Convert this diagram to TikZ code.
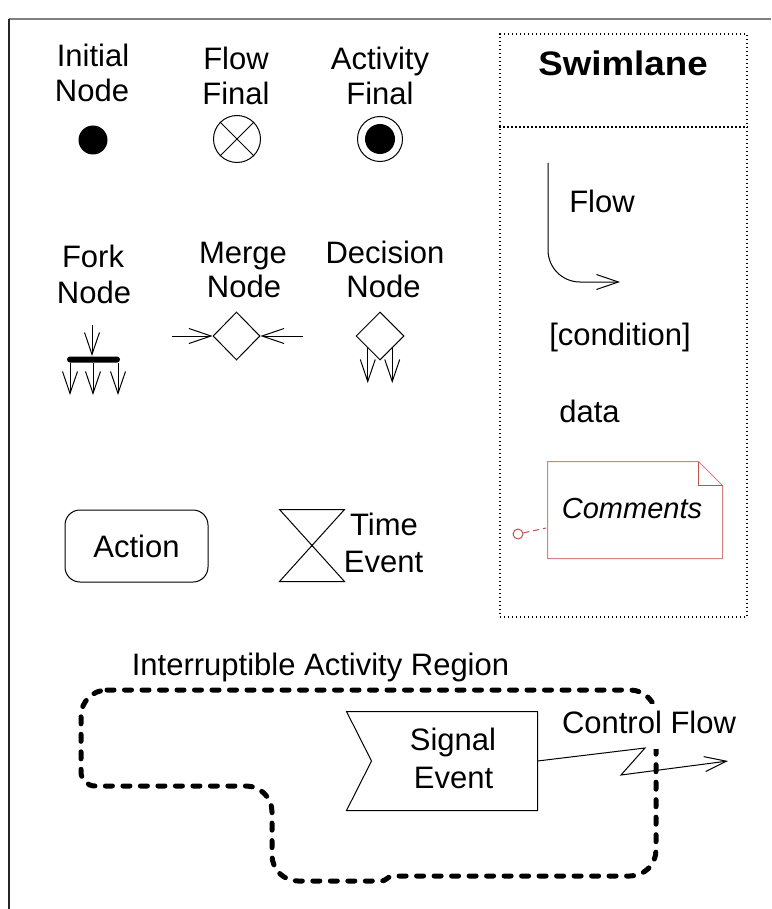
\documentclass[tikz,border=0pt]{standalone}
\usepackage{fontspec}
\setmainfont{Liberation Sans}
\usetikzlibrary{arrows.meta,shapes.geometric,calc}
\definecolor{framegray}{RGB}{128,128,128}
\definecolor{notered}{RGB}{215,130,130}
\definecolor{folded}{RGB}{192,80,77}
\begin{document}
\begin{tikzpicture}[x=1pt,y=-1pt, line width=1pt,
  lbl/.style={font=\fontsize{31}{35}\selectfont, inner sep=0pt, anchor=base},
  arr/.style={-{Straight Barb[length=22pt,width=15pt]}},
  lanedots/.style={dash pattern=on 1.2pt off 2.8pt, line width=1.2pt},
  region/.style={line width=5pt, line cap=round, dash pattern=on 7pt off 10.5pt}]
\useasboundingbox (0,0) rectangle (771,909);
\fill[white] (0,0) rectangle (771,909);
% frame
\coordinate (fTL) at (9,19); \coordinate (fTR) at (771,19); \coordinate (fBL) at (9,909);
\draw[framegray, line width=1.5pt] (fTL) -- (fTR);
\draw[black!85, line width=1.5pt] (fTL) -- (fBL);
% initial node
\node[lbl] (tInit1) at (93,67) {Initial};
\node[lbl] (tInit2) at (92,102) {Node};
\node[circle, fill=black, minimum size=29pt, inner sep=0pt] (init) at (93,140) {};
% flow final
\node[lbl] (tFF1) at (236,70) {Flow};
\node[lbl] (tFF2) at (236,105) {Final};
\node[circle, draw, minimum size=47pt, inner sep=0pt] (ff) at (237,139) {};
\draw (ff.north west) -- (ff.south east);
\draw (ff.north east) -- (ff.south west);
% activity final
\node[lbl] (tAF1) at (380,70) {Activity};
\node[lbl] (tAF2) at (380,105) {Final};
\node[circle, draw, minimum size=45pt, inner sep=0pt] (af) at (380,139) {};
\node[circle, fill=black, minimum size=30pt, inner sep=0pt] (afIn) at (af.center) {};
% fork
\node[lbl] (tFork1) at (93,267) {Fork};
\node[lbl] (tFork2) at (94,303) {Node};
\node[fill=black, rounded corners=3pt, minimum width=53pt, minimum height=6pt, inner sep=0pt] (fork) at (93.5,359.5) {};
\coordinate (forkIn) at (92,325);
\draw[arr] (forkIn) -- (forkIn |- fork.north);
\coordinate (fo1) at (70,395); \coordinate (fo2) at (93,395); \coordinate (fo3) at (118,395);
\draw[arr] (fo1 |- fork.south) -- (fo1);
\draw[arr] (fo2 |- fork.south) -- (fo2);
\draw[arr] (fo3 |- fork.south) -- (fo3);
% merge
\node[lbl] (tMerge1) at (243,263) {Merge};
\node[lbl] (tMerge2) at (244,297) {Node};
\node[diamond, draw, minimum width=47pt, minimum height=48pt, inner sep=0pt] (merge) at (236.5,336) {};
\coordinate (mInL) at (172,336); \coordinate (mInR) at (303,336);
\draw[arr] (mInL) -- (merge.west);
\draw[arr] (mInR) -- (merge.east);
% decision
\node[lbl] (tDec1) at (385,263) {Decision};
\node[lbl] (tDec2) at (383.5,297) {Node};
\node[diamond, draw, minimum width=48pt, minimum height=48pt, inner sep=0pt] (dec) at (380,336) {};
\coordinate (dOut) at (0,383);
\draw[arr] (dec.south west) -- (dec.south west |- dOut);
\draw[arr] (dec.south east) -- (dec.south east |- dOut);
% action
\node[draw, rounded corners=15pt, minimum width=143pt, minimum height=72pt, inner sep=0pt, font=\fontsize{31}{35}\selectfont] (act) at (136.5,546) {Action};
% time event
\node[minimum width=64pt, minimum height=71pt, inner sep=0pt] (te) at (312,545.5) {};
\draw (te.north west) -- (te.north east) -- (te.south west) -- (te.south east) -- cycle;
\node[lbl] (tTime1) at (384,535) {Time};
\node[lbl] (tTime2) at (383.5,572) {Event};
% swimlane
\node[draw, lanedots, minimum width=247pt, minimum height=583pt, inner sep=0pt] (lane) at (623.5,325.5) {};
\coordinate (laneDiv) at (0,127);
\draw[lanedots] (lane.west |- laneDiv) -- (lane.east |- laneDiv);
\node[font=\fontsize{34}{40}\selectfont\bfseries, inner sep=0pt, anchor=base] (tSwim) at (623,76) {\scalebox{1.08}[1]{Swimlane}};
\coordinate (flowA) at (548,163); \coordinate (flowB) at (620,282);
\draw[arr, rounded corners=32pt] (flowA) |- (flowB);
\node[lbl] (tFlow) at (602,213) {Flow};
\node[lbl] (tCond) at (620,345) {[condition]};
\node[lbl] (tData) at (589.5,422) {data};
% comment note
\node[minimum width=174pt, minimum height=96pt, inner sep=0pt] (note) at (635,510) {};
\draw[notered] (note.north west) -- ($(note.north east)+(-24,0)$) -- ($(note.north east)+(0,24)$) -- (note.south east) -- (note.south west) -- cycle;
\draw[folded] ($(note.north east)+(-24,0)$) -- ($(note.north east)+(-24,24)$) -- ($(note.north east)+(0,24)$);
\node[font=\fontsize{29}{35}\selectfont\itshape, inner sep=0pt, anchor=base] (tCom) at (632,518) {Comments};
\node[circle, draw=folded, minimum size=10pt, inner sep=0pt] (cc) at (518,534) {};
\coordinate (ccEnd) at (546,528);
\draw[folded, dash pattern=on 6pt off 4pt] (cc) -- (ccEnd);
% interruptible region
\node[lbl] (tIAR) at (320.5,675) {Interruptible Activity Region};
\draw[region] (107,690) -- (630,690)
  .. controls (644.4,690) and (656,701.6) .. (656,716) -- (656,850)
  .. controls (656,864.4) and (644.4,876) .. (630,876) -- (394,876)
  .. controls (386,876) and (388,881) .. (380,881) -- (298,881)
  .. controls (283.6,881) and (272,869.4) .. (272,855) -- (272,812)
  .. controls (272,797.6) and (260.4,786) .. (246,786) -- (95,786)
  .. controls (87.3,786) and (81,779.7) .. (81,772) -- (81,716)
  .. controls (81,701.6) and (92.6,690) .. (107,690) -- cycle;
% signal event
\node[minimum width=190pt, minimum height=98pt, inner sep=0pt] (sig) at (442,761) {};
\draw (sig.north west) -- (sig.north east) -- (sig.south east) -- (sig.south west) -- ($(sig.west)+(25,0)$) -- cycle;
\node[lbl] (tSig1) at (453,750) {Signal};
\node[lbl] (tSig2) at (453.5,788) {Event};
% control flow
\node[lbl, fill=white, inner ysep=5pt, inner xsep=2pt] (tCF) at (649,733) {\strut Control Flow};
\coordinate (lz1) at (645,748); \coordinate (lz2) at (621,775); \coordinate (cfEnd) at (728,761);
\draw[arr] (sig.east) -- (lz1) -- (lz2) -- (cfEnd);
\end{tikzpicture}
\end{document}
